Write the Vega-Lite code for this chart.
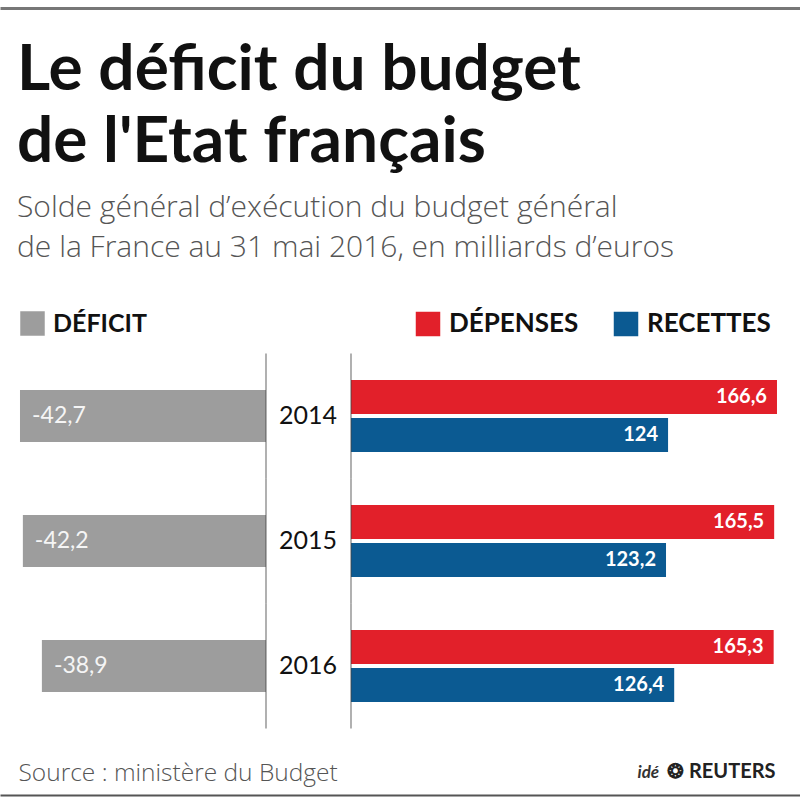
{
  "$schema": "https://vega.github.io/schema/vega-lite/v6.json",
  "width": 800,
  "height": 440,
  "autosize": {"type": "none"},
  "padding": {"top": 300, "left": 0, "right": 0, "bottom": 60},
  "background": "white",
  "config": {
    "view": {"stroke": null},
    "font": "Lato",
    "locale": {"number": {"decimal": ",", "thousands": " ", "grouping": [3], "currency": ["", " €"], "minus": "-"}}
  },
  "title": {
    "text": ["Le déficit du budget", "de l'Etat français"],
    "subtitle": ["Solde général d’exécution du budget général", "de la France au 31 mai 2016, en milliards d’euros"],
    "anchor": "start",
    "frame": "group",
    "dx": 17,
    "dy": 255,
    "offset": 0,
    "font": "Lato",
    "fontSize": 64,
    "fontWeight": "bold",
    "color": "#111111",
    "lineHeight": 72,
    "subtitleFont": "Open Sans",
    "subtitleFontSize": 30,
    "subtitleFontWeight": 300,
    "subtitleColor": "#555555",
    "subtitleLineHeight": 40,
    "subtitlePadding": 18
  },
  "datasets": {
    "deficit": [
      {"annee": "2014", "serie": "DÉFICIT", "valeur": -42.7},
      {"annee": "2015", "serie": "DÉFICIT", "valeur": -42.2},
      {"annee": "2016", "serie": "DÉFICIT", "valeur": -38.9}
    ],
    "budget": [
      {"annee": "2014", "serie": "DÉPENSES", "valeur": 166.6},
      {"annee": "2014", "serie": "RECETTES", "valeur": 124},
      {"annee": "2015", "serie": "DÉPENSES", "valeur": 165.5},
      {"annee": "2015", "serie": "RECETTES", "valeur": 123.2},
      {"annee": "2016", "serie": "DÉPENSES", "valeur": 165.3},
      {"annee": "2016", "serie": "RECETTES", "valeur": 126.4}
    ]
  },
  "layer": [
    {
      "data": {"name": "deficit"},
      "encoding": {
        "y": {
          "field": "annee",
          "type": "nominal",
          "scale": {"paddingInner": 0.584, "paddingOuter": 0.552, "align": 0.6522},
          "axis": {
            "orient": "left",
            "domain": false, "ticks": false, "labels": false, "grid": false,
            "title": "idé",
            "titleAngle": 0,
            "titleX": 637,
            "titleY": 477,
            "titleAlign": "left",
            "titleBaseline": "alphabetic",
            "titleFont": "Lato",
            "titleFontSize": 17,
            "titleFontStyle": "italic",
            "titleFontWeight": "bold",
            "titleColor": "#333333"
          }
        }
      },
      "layer": [
        {
          "mark": {"type": "bar"},
          "encoding": {
            "x": {
              "field": "valeur",
              "type": "quantitative",
              "scale": {"domain": [-46.17, 92.69], "nice": false, "zero": false},
              "axis": {
                "orient": "bottom",
                "offset": 55,
                "domainColor": "#555555",
                "domainWidth": 2,
                "ticks": false, "labels": false, "grid": false,
                "title": "Source : ministère du Budget",
                "titleX": 18,
                "titleY": -15,
                "titleAlign": "left",
                "titleAnchor": "start",
                "titleBaseline": "alphabetic",
                "titleFont": "Open Sans",
                "titleFontSize": 24.5,
                "titleFontWeight": 300,
                "titleColor": "#555555"
              }
            },
            "color": {
              "field": "serie",
              "type": "nominal",
              "scale": {"domain": ["DÉFICIT"], "range": ["#9d9d9d"]},
              "legend": {
                "orient": "none",
                "legendX": 20,
                "legendY": 11,
                "title": null,
                "symbolType": "square",
                "symbolSize": 600,
                "symbolStrokeWidth": 0,
                "labelFont": "Lato",
                "labelFontSize": 25,
                "labelFontWeight": "bold",
                "labelColor": "#111111",
                "labelOffset": 8
              }
            }
          }
        },
        {
          "mark": {"type": "text", "align": "left", "baseline": "middle", "dx": 12, "fontSize": 23, "color": "#f5f5f5"},
          "encoding": {
            "x": {"field": "valeur", "type": "quantitative"},
            "text": {"field": "valeur", "type": "quantitative", "format": ".1f"}
          }
        },
        {
          "mark": {"type": "text", "align": "center", "baseline": "middle", "fontSize": 25, "color": "#111111"},
          "encoding": {
            "x": {"datum": 7.3, "type": "quantitative"},
            "text": {"field": "annee", "type": "nominal"},
            "fontWeight": {"condition": {"test": "datum.annee === '2016'", "value": "bold"}, "value": "normal"}
          }
        },
        {
          "mark": {"type": "tick", "size": 125, "thickness": 1.2, "color": "#444444"},
          "encoding": {
            "x": {"datum": 0, "type": "quantitative"}
          }
        }
      ]
    },
    {
      "data": {"name": "budget"},
      "encoding": {
        "y": {
          "field": "annee",
          "type": "nominal",
          "scale": {"paddingInner": 0.424, "paddingOuter": 0.472, "align": 0.678},
          "axis": {
            "orient": "right",
            "domain": false, "ticks": false, "labels": false, "grid": false,
            "title": "❂ REUTERS",
            "titleAngle": 0,
            "titleX": -25,
            "titleY": 477,
            "titleAlign": "right",
            "titleBaseline": "alphabetic",
            "titleFont": "Lato",
            "titleFontSize": 20,
            "titleFontWeight": "bold",
            "titleColor": "#222222"
          }
        }
      },
      "layer": [
        {
          "mark": {"type": "bar"},
          "encoding": {
            "x": {
              "field": "valeur",
              "type": "quantitative",
              "scale": {"domain": [-137.27, 175.6], "nice": false, "zero": false},
              "axis": {
                "orient": "top",
                "offset": 292,
                "domainColor": "#777777",
                "domainWidth": 3,
                "ticks": false, "labels": false, "grid": false,
                "title": null
              }
            },
            "yOffset": {"field": "serie", "type": "nominal", "scale": {"paddingInner": 0.1, "paddingOuter": 0}},
            "color": {
              "field": "serie",
              "type": "nominal",
              "scale": {"domain": ["DÉPENSES", "RECETTES"], "range": ["#e2202a", "#0b5a92"]},
              "legend": {
                "orient": "none",
                "legendX": 415,
                "legendY": 11,
                "direction": "horizontal",
                "title": null,
                "symbolType": "square",
                "symbolSize": 600,
                "symbolStrokeWidth": 0,
                "labelFont": "Lato",
                "labelFontSize": 26,
                "labelFontWeight": "bold",
                "labelColor": "#111111",
                "labelOffset": 8,
                "columnPadding": 34
              }
            }
          }
        },
        {
          "mark": {"type": "text", "align": "right", "baseline": "middle", "dx": -10, "fontSize": 20, "fontWeight": "bold", "color": "#ffffff"},
          "encoding": {
            "x": {"field": "valeur", "type": "quantitative"},
            "yOffset": {"field": "serie", "type": "nominal"},
            "text": {"field": "valeur", "type": "quantitative", "format": ".1~f"}
          }
        },
        {
          "transform": [{"filter": "datum.serie === 'DÉPENSES'"}],
          "mark": {"type": "tick", "size": 125, "thickness": 1.2, "color": "#444444"},
          "encoding": {
            "x": {"datum": 0, "type": "quantitative"}
          }
        }
      ]
    }
  ],
  "resolve": {
    "scale": {"x": "independent", "y": "independent", "color": "independent"},
    "axis": {"x": "independent", "y": "independent"},
    "legend": {"color": "independent"}
  }
}
